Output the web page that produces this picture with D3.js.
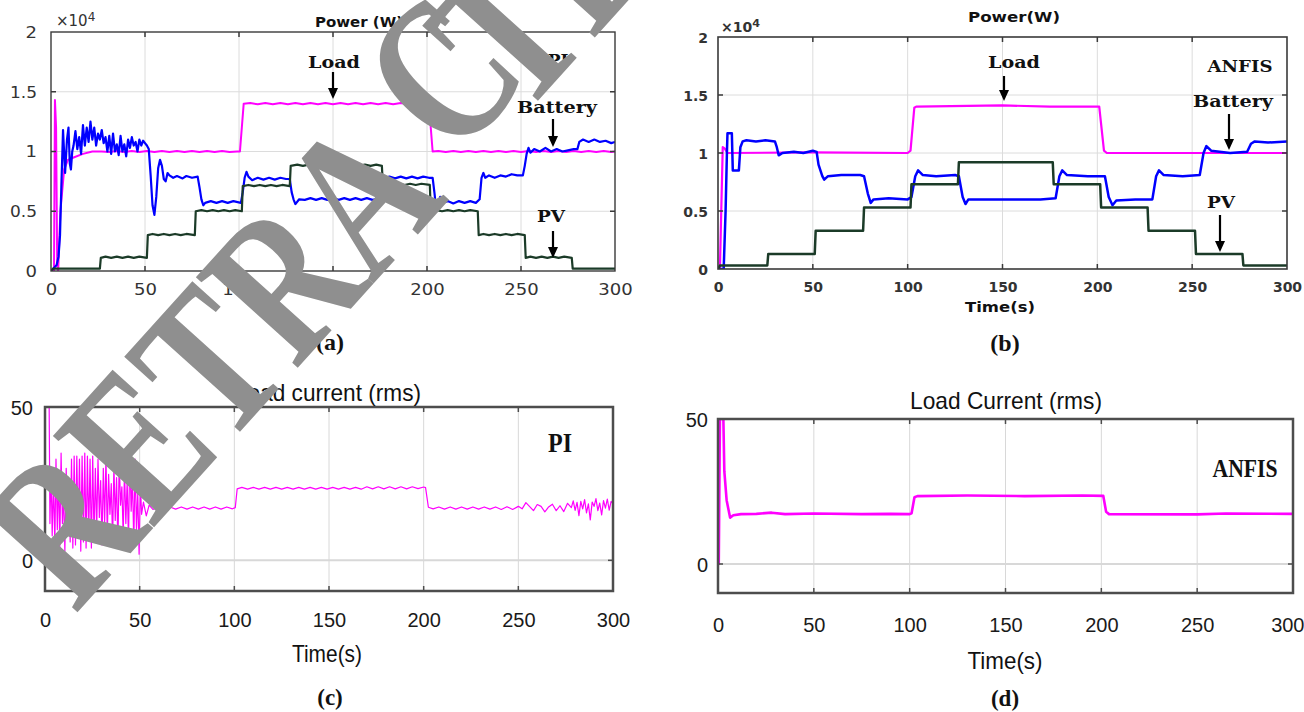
<!DOCTYPE html>
<html>
<head>
<meta charset="utf-8">
<script src="https://cdn.jsdelivr.net/npm/d3@7"></script>
<style>
body { margin: 0; background: #fff; }
</style>
</head>
<body>
<svg id="fig" width="1304" height="712"></svg>
<script>
// ---- data (power in x10^4 W, current in A, time in s) ----
var timeTicks = [0, 50, 100, 150, 200, 250, 300];
var powerTicks = [0, 0.5, 1, 1.5, 2];
var currentTicks = [0, 50];

var piLoadPower = [[0,0],[1.6,0],[2.1,1.43],[2.7,1.2],[3.3,0.05],[3.8,0],[5,0.5],[7,0.85],[9,0.93],[12,0.95],[17,0.98],[22,1.0],
  [27,1.0],[31,0.995],[35,1.005],[39,0.995],[43,1.005],[47,0.995],[51,1.005],[55,0.995],[59,1.005],[63,0.995],[67,1.005],[71,0.995],
  [75,1.005],[79,0.995],[83,1.005],[87,0.995],[91,1.005],[95,0.995],[99,1.0],[100.5,1.0],[102.5,1.4],[106,1.405],[110,1.395],
  [114,1.405],[118,1.395],[122,1.405],[126,1.395],[130,1.405],[134,1.395],[138,1.405],[142,1.395],[146,1.405],[150,1.395],
  [154,1.405],[158,1.395],[162,1.405],[166,1.395],[170,1.405],[174,1.395],[178,1.405],[182,1.395],[186,1.405],[190,1.395],
  [194,1.405],[198,1.395],[201,1.4],[203,1.0],[206,1.005],[210,0.995],[214,1.005],[218,0.995],[222,1.005],[226,0.995],[230,1.005],
  [234,0.995],[238,1.005],[242,0.995],[246,1.005],[250,0.995],[254,1.005],[258,0.995],[262,1.005],[266,0.995],[270,1.005],
  [274,0.995],[278,1.005],[282,0.995],[286,1.005],[290,0.995],[294,1.005],[298,0.995],[300,1.0]];

var piBatteryPower = [[0,0],[3,0.05],[4,0.12],[4.8,0.3],[5.5,0.7],[6.4,1.18],[7.5,0.82],[8.5,1.1],[9.3,1.2],[10,0.9],[10.6,0.85],
  [11.3,1.0],[12,1.05],[13,1.17],[14,1.02],[15,1.12],[16,0.98],[17,1.22],[18,1.05],[19,1.2],[20,1.08],[21,1.25],[22,1.1],[23,1.2],
  [24,1.05],[25,1.15],[26,1.1],[27,1.18],[28,1.07],[29,1.12],[30,1.0],[31,1.13],[32,0.98],[33,1.15],[34,1.0],[35,1.06],[36,0.97],
  [37,1.13],[38,1.0],[39,1.06],[40,0.96],[41,1.1],[42,1.03],[43,1.12],[44,1.05],[45,1.08],[46,1.0],[47,1.1],[48,1.05],[49,1.09],
  [50,1.07],[51,1.05],[52,1.02],[53,0.8],[54,0.55],[55,0.47],[56,0.62],[57,0.86],[58,0.93],[59,0.88],[60,0.77],[61,0.75],[62,0.82],
  [63,0.8],[65,0.78],[67,0.795],[70,0.775],[72,0.795],[75,0.78],[78,0.79],[79,0.7],[80,0.6],[81,0.55],[82,0.57],[85,0.585],
  [88,0.57],[91,0.585],[94,0.57],[97,0.585],[101,0.57],[102,0.66],[103,0.78],[104,0.83],[105,0.79],[107,0.76],[110,0.78],
  [113,0.765],[116,0.78],[119,0.765],[122,0.78],[125,0.77],[127,0.77],[128,0.66],[129,0.6],[130,0.56],[132,0.6],[135,0.595],
  [138,0.61],[141,0.595],[144,0.61],[147,0.595],[150,0.61],[153,0.595],[156,0.61],[159,0.595],[162,0.61],[165,0.595],[168,0.61],
  [171,0.595],[174,0.605],[176,0.6],[177,0.7],[178,0.78],[180,0.79],[183,0.775],[186,0.79],[189,0.775],[192,0.79],[195,0.775],
  [198,0.79],[201,0.78],[203,0.78],[204,0.65],[205,0.5],[206,0.55],[207,0.62],[208,0.57],[211,0.585],[214,0.565],[217,0.585],
  [220,0.57],[223,0.585],[226,0.57],[228,0.6],[229,0.78],[230,0.82],[231,0.78],[233,0.8],[236,0.78],[239,0.8],[242,0.79],
  [245,0.81],[248,0.8],[251,0.8],[252,0.88],[253,0.98],[254,1.03],[255,0.99],[257,1.02],[260,1.0],[263,1.03],[266,1.0],[269,1.02],
  [272,1.0],[275,1.01],[278,1.02],[280,1.02],[281,1.08],[283,1.1],[286,1.08],[289,1.1],[292,1.08],[295,1.09],[298,1.07],[300,1.08]];

var piPvPower = [[0,0],[1,0.02],[26,0.02],[26.5,0.11],[29,0.12],[32,0.11],[35,0.12],[38,0.11],[41,0.12],[44,0.11],[47,0.12],
  [51,0.11],[51.5,0.3],[54,0.31],[57,0.3],[60,0.31],[63,0.3],[66,0.31],[69,0.3],[72,0.31],[76.5,0.3],[77,0.5],[80,0.51],[83,0.5],
  [86,0.51],[89,0.5],[92,0.51],[95,0.5],[98,0.51],[101.5,0.5],[102,0.71],[105,0.72],[108,0.71],[111,0.72],[114,0.71],[117,0.72],
  [120,0.71],[123,0.72],[127,0.71],[127.5,0.88],[131,0.89],[134,0.88],[137,0.89],[140,0.88],[143,0.89],[146,0.88],[149,0.89],
  [152,0.88],[155,0.89],[158,0.88],[161,0.89],[164,0.88],[167,0.89],[170,0.88],[173,0.89],[176,0.88],[176.5,0.72],[179,0.73],
  [182,0.72],[185,0.73],[188,0.72],[191,0.73],[194,0.72],[197,0.73],[201.5,0.72],[202,0.5],[205,0.51],[208,0.5],[211,0.51],
  [214,0.5],[217,0.51],[220,0.5],[223,0.51],[227,0.5],[227.5,0.3],[230,0.31],[233,0.3],[236,0.31],[239,0.3],[242,0.31],[245,0.3],
  [248,0.31],[252,0.3],[252.5,0.11],[255,0.12],[258,0.11],[261,0.12],[264,0.11],[267,0.12],[270,0.11],[273,0.12],[277,0.11],
  [277.5,0.02],[300,0.02]];

var anfisLoadPower = [[0,0],[1,0],[2.5,1.05],[3.5,1.04],[5,1.0],[50,1.005],[100,1.0],[101.5,1.02],[103.5,1.39],[104.5,1.4],
  [150,1.41],[175,1.4],[201,1.4],[203.5,1.02],[205,1.0],[250,1.0],[300,1.0]];

var anfisBatteryPower = [[0,0],[3,0],[4,0.5],[4.7,1.0],[5,1.17],[7.3,1.17],[7.8,0.85],[11,0.85],[11.8,1.05],[13,1.1],[15,1.11],
  [20,1.1],[25,1.11],[30,1.1],[31,1.05],[32,0.98],[34,1.0],[40,1.01],[45,1.0],[50,1.02],[52,1.01],[53,0.9],[55,0.8],[56,0.77],
  [58,0.8],[65,0.81],[75,0.81],[77,0.8],[79,0.65],[80.5,0.57],[82,0.6],[90,0.61],[100,0.6],[102,0.62],[104,0.8],[105.5,0.85],
  [108,0.81],[115,0.8],[125,0.81],[127,0.8],[129,0.62],[130.5,0.56],[132,0.6],[150,0.6],[170,0.6],[178,0.61],[180,0.8],
  [181.5,0.85],[184,0.81],[195,0.8],[204,0.8],[206,0.62],[208,0.55],[210,0.59],[220,0.6],[229,0.6],[231,0.8],[232.5,0.85],
  [235,0.81],[245,0.8],[254,0.81],[256,1.0],[257.5,1.06],[260,1.02],[270,1.0],[279,1.01],[281,1.08],[283,1.1],[290,1.09],[300,1.1]];

var anfisPvPower = [[0,0],[1,0.03],[26,0.03],[26.5,0.13],[51,0.13],[51.5,0.33],[76.5,0.33],[77,0.53],[101.5,0.53],[102,0.73],
  [126.5,0.73],[127,0.92],[176.5,0.92],[177,0.73],[201.5,0.73],[202,0.53],[226.5,0.53],[227,0.33],[251.5,0.33],[252,0.13],
  [276.5,0.13],[277,0.03],[300,0.03]];

var piCurrent = [[0,50],[2.2,50],[2.6,12],[3.2,30],[3.8,8],[4.5,26],[5.2,5],[5.8,33],[6.5,10],[7.2,28],[7.8,4],[8.5,35],[9.2,12],
  [9.8,22],[10.5,3],[11.2,30],[11.9,8],[12.6,25],[13.3,6],[14,33],[14.7,4],[15.4,34],[16.1,5],[16.8,34],[17.5,8],[18.2,33],
  [18.9,3],[19.6,34],[20.3,6],[21,35],[21.7,4],[22.4,34],[23.1,9],[23.8,33],[24.5,4],[25.2,34],[25.9,7],[26.6,30],[27.3,10],
  [28,33],[28.7,14],[29.4,26],[30.1,5],[30.8,30],[31.5,12],[32.2,34],[32.9,8],[33.6,28],[34.3,15],[35,25],[35.7,6],[36.4,31],
  [37.1,13],[37.8,27],[38.5,4],[39.2,33],[39.9,18],[40.6,24],[41.3,8],[42,30],[42.7,12],[43.4,26],[44.1,6],[44.8,36],[45.5,16],
  [46.2,27],[46.9,5],[47.6,33],[48.3,10],[49,22],[49.7,2],[50.4,25],[51,15],[52,19],[53.5,14.5],[55,18],[57,16.6],[60,17.4],
  [63,16.7],[66,17.4],[69,16.7],[72,17.4],[75,16.7],[78,17.4],[81,16.7],[84,17.4],[87,16.7],[90,17.4],[93,16.7],[96,17.4],
  [99,16.8],[100.5,17.2],[101.5,23.3],[104,23.8],[107,23.2],[110,23.8],[113,23.2],[116,23.8],[119,23.2],[122,23.8],[125,23.2],
  [128,23.8],[131,23.2],[134,23.8],[137,23.2],[140,23.8],[143,23.2],[146,23.8],[149,23.2],[152,23.8],[155,23.2],[158,23.8],
  [161,23.2],[164,23.8],[167,23.2],[170,24.0],[173,23.3],[176,24.0],[179,23.3],[182,24.0],[185,23.3],[188,24.0],[191,23.3],
  [194,24.0],[197,23.4],[200,23.9],[201,23.7],[202.5,17.3],[205,16.8],[208,17.4],[211,16.7],[214,17.4],[217,16.7],[220,17.4],
  [223,16.7],[226,17.4],[229,16.7],[232,17.4],[235,16.7],[238,17.4],[241,16.6],[244,17.5],[247,16.6],[250,17.6],[252,16.8],
  [254,18.8],[256,17.5],[258,16.2],[260,18.2],[262,17.6],[264,15.8],[266,17.4],[268,18.3],[270,16.2],[272,17.8],[274,15.9],
  [276,18.6],[278,17.2],[279,19.4],[280,16.3],[281,18.9],[282,14.6],[283,19.2],[284,16.8],[285,19.8],[286,15.5],[287,18.4],
  [288,13.2],[289,19],[290,17.6],[291,20.1],[292,16.2],[293,18.7],[294,14.8],[295,19.5],[296,17],[297,20],[298,16.4],[299,19.2],
  [300,18.5]];

var anfisCurrent = [[0,0],[0.4,0],[1,50],[2.8,50],[3.3,32],[4.5,22],[6.3,16],[8,16.8],[12,17.2],[20,17.3],[28,17.7],[35,17.2],
  [50,17.4],[75,17.2],[90,17.3],[100,17.2],[101,17.5],[102.5,23],[104,23.4],[130,23.6],[160,23.4],[190,23.6],[201,23.5],
  [202.5,18],[204,17.2],[250,17.1],[265,17.4],[300,17.3]];

var svg = d3.select('#fig');
var MAG = '#ff00ff', BLUE = '#0000ff', GREEN = '#1b3b28';

function panel(p) {
  var x = d3.scaleLinear().domain([0, 300]).range([p.x0, p.x1]);
  var y = d3.scaleLinear().domain(p.ydom).range([p.y1, p.y0]);
  var g = svg.append('g');

  // grid
  g.selectAll('line.vg').data(timeTicks.slice(1, -1)).enter().append('line')
    .attr('x1', function(d){ return x(d); }).attr('x2', function(d){ return x(d); })
    .attr('y1', p.y0).attr('y2', p.y1)
    .attr('stroke', p.grid).attr('stroke-width', 1);
  g.selectAll('line.hg').data(p.hgrid).enter().append('line')
    .attr('x1', p.x0).attr('x2', p.x1)
    .attr('y1', function(d){ return y(d); }).attr('y2', function(d){ return y(d); })
    .attr('stroke', p.grid).attr('stroke-width', p.hgridW || 1);

  // lines
  var clipId = 'clip' + p.id;
  svg.append('clipPath').attr('id', clipId).append('rect')
    .attr('x', p.x0).attr('y', p.y0 - 1).attr('width', p.x1 - p.x0).attr('height', p.y1 - p.y0 + 1);
  var line = d3.line().x(function(d){ return x(d[0]); }).y(function(d){ return y(d[1]); });
  p.series.forEach(function(s) {
    g.append('path').datum(s.data).attr('d', line)
      .attr('clip-path', 'url(#' + clipId + ')')
      .attr('fill', 'none').attr('stroke', s.color).attr('stroke-width', s.width)
      .attr('stroke-linejoin', 'round');
  });

  // small inward ticks
  var tl = 5;
  timeTicks.slice(1, -1).forEach(function(d) {
    g.append('line').attr('x1', x(d)).attr('x2', x(d)).attr('y1', p.y0).attr('y2', p.y0 + tl).attr('stroke', p.box).attr('stroke-width', 1.5);
    g.append('line').attr('x1', x(d)).attr('x2', x(d)).attr('y1', p.y1).attr('y2', p.y1 - tl).attr('stroke', p.box).attr('stroke-width', 1.5);
  });
  p.hgrid.forEach(function(d) {
    g.append('line').attr('x1', p.x1).attr('x2', p.x1 - tl).attr('y1', y(d)).attr('y2', y(d)).attr('stroke', p.box).attr('stroke-width', 1.5);
    g.append('line').attr('x1', p.x0).attr('x2', p.x0 + tl).attr('y1', y(d)).attr('y2', y(d)).attr('stroke', p.box).attr('stroke-width', 1.5);
  });

  // box
  g.append('rect').attr('x', p.x0).attr('y', p.y0).attr('width', p.x1 - p.x0).attr('height', p.y1 - p.y0)
    .attr('fill', 'none').attr('stroke', p.box).attr('stroke-width', p.boxW);

  // axes labels
  var xa = g.append('g').attr('transform', 'translate(0,' + (p.y1 + p.xlabDy) + ')')
    .call(d3.axisBottom(x).tickValues(timeTicks).tickSize(0).tickPadding(0).tickFormat(d3.format('d')));
  var ya = g.append('g').attr('transform', 'translate(' + (p.x0 - p.ylabDx) + ',0)')
    .call(d3.axisLeft(y).tickValues(p.yticks).tickSize(0).tickPadding(0).tickFormat(p.yfmt));
  [xa, ya].forEach(function(a) {
    a.select('.domain').remove();
    var t = a.selectAll('text').attr('dy', '0.36em')
      .attr('font-family', p.tickFont).attr('font-size', p.tickSize)
      .attr('font-weight', p.tickWeight).attr('fill', p.tickColor);
    if (p.digitW) {
      t.attr('textLength', function() {
        var s = this.textContent, w = 0;
        for (var i = 0; i < s.length; i++) w += s[i] === '.' ? 4 : p.digitW;
        return w;
      }).attr('lengthAdjust', 'spacingAndGlyphs');
    }
  });
  return {x: x, y: y, xa: xa};
}

function label(txt, x, y, o) {
  var t = svg.append('text').attr('x', x).attr('y', y).attr('dy', '0.36em')
    .attr('text-anchor', o.anchor || 'middle')
    .attr('font-family', o.font).attr('font-size', o.size)
    .attr('font-weight', o.weight || 'normal').attr('fill', o.color || '#111')
    .text(txt);
  if (o.w) t.attr('textLength', o.w).attr('lengthAdjust', 'spacingAndGlyphs');
  return t;
}

function arrow(x, y1, y2) {
  svg.append('line').attr('x1', x).attr('x2', x).attr('y1', y1).attr('y2', y2 - 8)
    .attr('stroke', '#000').attr('stroke-width', 2.2);
  svg.append('path').attr('d', 'M' + (x - 5) + ',' + (y2 - 11) + 'L' + (x + 5) + ',' + (y2 - 11) + 'L' + x + ',' + y2 + 'Z')
    .attr('fill', '#000');
}

function times10(x, y, size, weight) {
  var t = svg.append('text').attr('x', x).attr('y', y).attr('dy', '0.36em')
    .attr('font-family', 'DejaVu Sans').attr('font-size', size).attr('font-weight', weight).attr('fill', '#333');
  t.append('tspan').text('\u00d710');
  t.append('tspan').attr('dy', '-0.45em').attr('font-size', size * 0.8).text('4');
}

var serif = 'DejaVu Serif', sans = 'DejaVu Sans', lserif = 'Liberation Serif', lsans = 'Liberation Sans';

// (a) PI power
panel({id: 'a', x0: 51, x1: 615, y0: 32, y1: 271, ydom: [0, 2], hgrid: [0.5, 1, 1.5], yticks: powerTicks,
  yfmt: d3.format('~g'), grid: '#dcdcdc', box: '#3a3a3a', boxW: 1.4,
  xlabDy: 19, ylabDx: 14, tickFont: sans, tickSize: 15, tickWeight: 'normal', tickColor: '#333', digitW: 11.5,
  series: [{data: piLoadPower, color: MAG, width: 2}, {data: piBatteryPower, color: BLUE, width: 2.2},
           {data: piPvPower, color: GREEN, width: 2.2}]});
times10(56, 21, 15, 'normal');
label('Power (W)', 359, 22, {font: sans, size: 14, weight: 'bold', w: 88});
label('Load', 334, 62, {font: serif, size: 16, weight: 'bold', w: 52});
arrow(333, 72, 99);
label('PI', 558, 60, {font: serif, size: 17, weight: 'bold'});
label('Battery', 557, 107, {font: serif, size: 16, weight: 'bold', w: 80});
arrow(553, 119, 147);
label('PV', 551, 216, {font: serif, size: 16, weight: 'bold', w: 28});
arrow(553, 231, 258);
label('(a)', 330, 341, {font: lserif, size: 24, weight: 'bold'});

// (b) ANFIS power
panel({id: 'b', x0: 718, x1: 1287, y0: 37, y1: 269, ydom: [0, 2], hgrid: [0.5, 1, 1.5], yticks: powerTicks,
  yfmt: d3.format('~g'), grid: '#dcdcdc', box: '#3a3a3a', boxW: 1.6,
  xlabDy: 18, ylabDx: 10, tickFont: sans, tickSize: 14, tickWeight: 'bold', tickColor: '#333',
  series: [{data: anfisLoadPower, color: MAG, width: 2.2}, {data: anfisBatteryPower, color: BLUE, width: 2.5},
           {data: anfisPvPower, color: GREEN, width: 2.5}]});
times10(721, 27, 14, 'bold');
label('Power(W)', 1014, 17, {font: sans, size: 14, weight: 'bold', w: 92});
label('Load', 1014, 62, {font: serif, size: 16, weight: 'bold', w: 52});
arrow(1004, 76, 101);
label('ANFIS', 1240, 66, {font: serif, size: 16, weight: 'bold', w: 65});
label('Battery', 1233, 101, {font: serif, size: 16, weight: 'bold', w: 80});
arrow(1229, 114, 150);
label('PV', 1221, 202, {font: serif, size: 16, weight: 'bold', w: 28});
arrow(1220, 215, 252);
label('Time(s)', 1000, 307, {font: sans, size: 14, weight: 'bold', w: 70});
label('(b)', 1005, 342, {font: lserif, size: 24, weight: 'bold'});

// (c) PI load current
panel({id: 'c', x0: 45, x1: 613, y0: 407, y1: 591, ydom: [-10, 50], hgrid: [0], hgridW: 2, yticks: currentTicks,
  yfmt: d3.format('d'), grid: '#d8d8d8', box: '#4d4d4d', boxW: 2.5,
  xlabDy: 29, ylabDx: 12, tickFont: lsans, tickSize: 20, tickWeight: 'normal', tickColor: '#1a1a1a',
  series: [{data: piCurrent, color: MAG, width: 1.2}]});
label('Load current (rms)', 328, 392, {font: lsans, size: 24, w: 186});
label('PI', 560, 442, {font: lserif, size: 27, weight: 'bold', w: 24});
label('Time(s)', 327, 653, {font: lsans, size: 24, w: 70});
label('(c)', 330, 697, {font: lserif, size: 23, weight: 'bold'});

// (d) ANFIS load current
var pd = panel({id: 'd', x0: 718, x1: 1293, y0: 419, y1: 593, ydom: [-10, 50], hgrid: [0], hgridW: 2, yticks: currentTicks,
  yfmt: d3.format('d'), grid: '#d8d8d8', box: '#4d4d4d', boxW: 2.5,
  xlabDy: 32, ylabDx: 10, tickFont: lsans, tickSize: 20, tickWeight: 'normal', tickColor: '#1a1a1a',
  series: [{data: anfisCurrent, color: MAG, width: 2.6}]});
// the last label sits at the page edge; keep it inside
pd.xa.selectAll('.tick').filter(function(d){ return d === 300; }).select('text').attr('text-anchor', 'end').attr('x', 11);
label('Load Current (rms)', 1006, 400, {font: lsans, size: 24, w: 192});
label('ANFIS', 1245, 468, {font: lserif, size: 25, weight: 'bold', w: 65});
label('Time(s)', 1005, 660, {font: lsans, size: 24, w: 75});
label('(d)', 1005, 698, {font: lserif, size: 23, weight: 'bold'});

// watermark, letter by letter so the spacing can follow the scan
var wm = svg.append('text').attr('transform', 'translate(75,615) rotate(-48) scale(1,1.3)')
  .attr('font-family', lserif).attr('font-size', 160).attr('font-weight', 'bold')
  .attr('fill', '#8f8f8f');
var wmShift = {5: [0.19, -0.1], 6: [-0.24, 0.1]};
'RETRACTED'.split('').forEach(function(ch, i) {
  var s = wmShift[i] || [0, 0];
  wm.append('tspan').attr('dx', s[0] + 'em').attr('dy', s[1] + 'em').text(ch);
});
</script>
</body>
</html>
